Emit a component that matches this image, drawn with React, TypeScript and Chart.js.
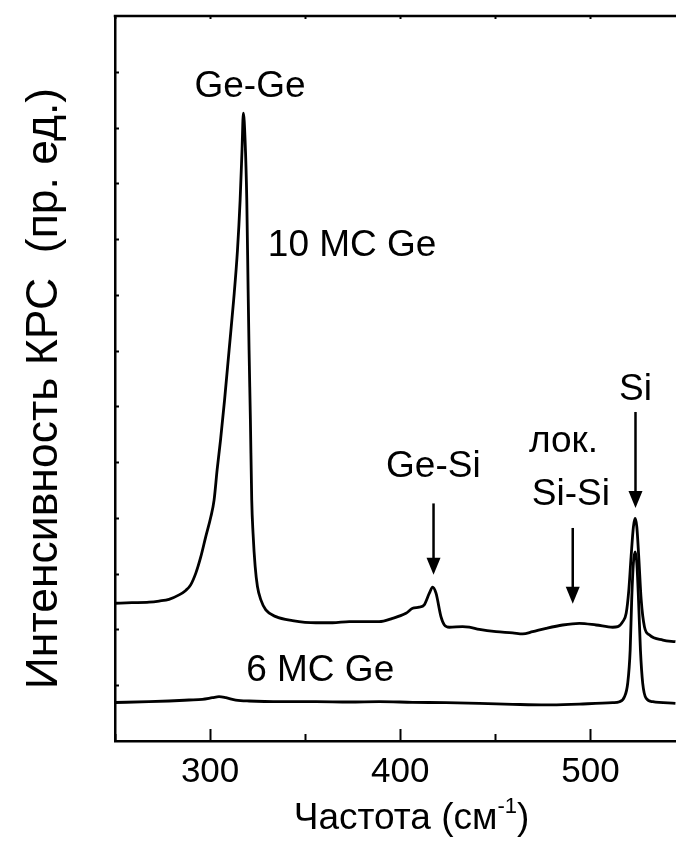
import { useEffect, useRef } from "react";
import { Chart, registerables } from "chart.js";

Chart.register(...registerables);

// Raman spectrum of the 10-monolayer Ge sample (frequency, cm^-1 / intensity, arb. units)
const freq10 = [
  250, 258.9, 267.9, 273.2, 278.4, 283.7, 287.2, 289.8, 292.5, 295.1, 297.7, 300.4,
  302.1, 303.7, 305.5, 307.6, 310.0, 312.4, 314.4, 315.8, 316.8, 317.5, 318.4,
  319.3, 320.0, 320.5, 321.2, 321.9, 322.6, 323.7, 324.9, 326.7, 329.3, 334.6, 343.3,
  355.6, 364.4, 373.2, 388.9, 395.9, 403.0, 406.5, 410.0, 412.6, 415.3, 417.0, 418.8,
  421.4, 423.2, 425.8, 432.8, 436.3, 441.6, 450.4, 459.1, 464.4, 469.6, 476.7, 485.4,
  494.2, 503.0, 511.7, 514.4, 517.0, 518.8, 520.2, 521.4, 522.6, 523.5, 524.4, 525.4,
  526.7, 528.4, 531.1, 538.1, 544.7,
];
const int10 = [
  2.47, 2.48, 2.49, 2.51, 2.54, 2.62, 2.7, 2.8, 3.01, 3.3, 3.66, 4.02,
  4.32, 4.86, 5.4, 6.11, 7.01, 7.91, 8.8, 9.7, 10.6, 11.26, 10.78,
  9.7, 8.09, 7.01, 5.76, 4.32, 3.72, 3.13, 2.77, 2.53, 2.35, 2.23, 2.16,
  2.12, 2.12, 2.14, 2.14, 2.2, 2.29, 2.38, 2.4, 2.44, 2.65, 2.76, 2.65,
  2.23, 2.08, 2.04, 2.05, 2.04, 2.0, 1.96, 1.94, 1.92, 1.96, 2.02, 2.08,
  2.11, 2.08, 2.04, 2.05, 2.14, 2.29, 2.71, 3.31, 3.84, 3.99, 3.84, 3.31,
  2.53, 2.05, 1.9, 1.81, 1.78,
];

// Raman spectrum of the 6-monolayer Ge sample
const freq6 = [
  250, 267.9, 278.4, 288.9, 295.9, 301.2, 304.7, 308.3, 313.5, 320.5, 338.1, 355.6,
  373.2, 388.9, 406.5, 424.1, 441.6, 459.1, 476.7, 494.2, 511.7, 515.3, 517.9, 519.6,
  520.9, 521.7, 522.6, 523.5, 524.4, 525.3, 526.3, 527.5, 529.3, 532.8, 544.7,
];
const int6 = [
  0.69, 0.705, 0.717, 0.735, 0.748, 0.776, 0.794, 0.776, 0.735, 0.717, 0.705, 0.705,
  0.699, 0.705, 0.694, 0.687, 0.676, 0.658, 0.646, 0.663, 0.687, 0.705, 0.794, 1.035,
  1.63, 2.53, 3.19, 3.39, 3.19, 2.53, 1.63, 1.035, 0.766, 0.705, 0.676,
];

// Axis ranges and tick steps
const xMin = 250;
const xMax = 545;
const xStep = 50;
const xLabelStep = 100;
const yMin = 0;
const yMax = 13;
const yStep = 1;

// Peak annotations: text, frequency of its centre, intensity of its baseline
const noteText = ["Ge-Ge", "10 МС Ge", "6 МС Ge", "Ge-Si", "лок.", "Si-Si", "Si"];
const noteFreq = [321.0, 374.7, 357.9, 417.4, 485.8, 489.7, 523.7];
const noteLevel = [11.55, 8.7, 1.08, 4.73, 5.18, 4.23, 6.11];

// Arrows pointing to the bands: frequency, start and tip intensity
const arrowFreq = [417.5, 490.7, 523.7];
const arrowFrom = [4.26, 3.82, 5.9];
const arrowTo = [2.98, 2.46, 4.18];

const xTitle = "Частота (см";
const xTitleSup = "-1";
const yTitle = "Интенсивность КРС  (пр. ед.)";

const FONT = '"Liberation Sans", Arial, Helvetica, sans-serif';

const toPoints = (xs: number[], ys: number[]) => xs.map((x, i) => ({ x, y: ys[i] }));

const framePlugin = {
  id: "frameAndNotes",
  afterDatasetsDraw(chart: any) {
    const { ctx, chartArea: a, scales } = chart;
    const xs = scales.x;
    const ys = scales.y;
    ctx.save();
    ctx.strokeStyle = "#000";
    ctx.fillStyle = "#000";
    ctx.lineCap = "butt";

    // top edge of the frame
    ctx.lineWidth = 2.5;
    ctx.beginPath();
    ctx.moveTo(a.left - 1.25, a.top);
    ctx.lineTo(a.right, a.top);
    ctx.stroke();

    // inward tick marks
    ctx.lineWidth = 2;
    xs.ticks.forEach((t: any) => {
      const px = Math.round(xs.getPixelForValue(t.value)) + 0.5;
      const major = t.value % xLabelStep === 0;
      ctx.beginPath();
      ctx.moveTo(px, a.bottom);
      ctx.lineTo(px, a.bottom - (major ? 12 : 7));
      ctx.stroke();
      ctx.beginPath();
      ctx.moveTo(px, a.top);
      ctx.lineTo(px, a.top + 3);
      ctx.stroke();
    });
    ys.ticks.forEach((t: any) => {
      if (t.value <= yMin || t.value >= yMax) return;
      const py = Math.round(ys.getPixelForValue(t.value)) + 0.5;
      ctx.beginPath();
      ctx.moveTo(a.left, py);
      ctx.lineTo(a.left + 4, py);
      ctx.stroke();
    });

    // band labels
    ctx.font = `37px ${FONT}`;
    ctx.textAlign = "center";
    ctx.textBaseline = "alphabetic";
    noteText.forEach((txt, i) => {
      ctx.fillText(txt, xs.getPixelForValue(noteFreq[i]), ys.getPixelForValue(noteLevel[i]));
    });

    // arrows
    arrowFreq.forEach((f, i) => {
      const px = xs.getPixelForValue(f);
      const y0 = ys.getPixelForValue(arrowFrom[i]);
      const y1 = ys.getPixelForValue(arrowTo[i]);
      const head = 17;
      ctx.lineWidth = 2.5;
      ctx.beginPath();
      ctx.moveTo(px, y0);
      ctx.lineTo(px, y1 - head + 2);
      ctx.stroke();
      ctx.beginPath();
      ctx.moveTo(px - 7, y1 - head);
      ctx.lineTo(px + 7, y1 - head);
      ctx.lineTo(px, y1);
      ctx.closePath();
      ctx.fill();
    });
    ctx.restore();
  },
  afterDraw(chart: any) {
    const { ctx, chartArea: a } = chart;
    ctx.save();
    ctx.fillStyle = "#000";
    ctx.textBaseline = "alphabetic";

    // x axis title with superscript
    const main = `37px ${FONT}`;
    const sup = `22px ${FONT}`;
    ctx.font = main;
    const w1 = ctx.measureText(xTitle).width;
    const w3 = ctx.measureText(")").width;
    ctx.font = sup;
    const w2 = ctx.measureText(xTitleSup).width;
    const total = w1 + w2 + w3;
    const cx = (a.left + a.right) / 2 + 16;
    let x = cx - total / 2;
    const base = 829;
    ctx.textAlign = "left";
    ctx.font = main;
    ctx.fillText(xTitle, x, base);
    x += w1;
    ctx.font = sup;
    ctx.fillText(xTitleSup, x, base - 16);
    x += w2;
    ctx.font = main;
    ctx.fillText(")", x, base);

    // y axis title
    ctx.translate(57, (a.top + a.bottom) / 2 + 10);
    ctx.rotate(-Math.PI / 2);
    ctx.font = `44.5px ${FONT}`;
    ctx.textAlign = "center";
    ctx.fillText(yTitle, 0, 0);
    ctx.restore();
  },
};

export default function App() {
  const ref = useRef<HTMLCanvasElement | null>(null);

  useEffect(() => {
    document.body.style.margin = "0";
    const canvas = ref.current;
    if (!canvas) return;
    const chart = new Chart(canvas, {
      type: "line",
      data: {
        datasets: [
          {
            label: "10 МС Ge",
            data: toPoints(freq10, int10),
            borderColor: "#000",
            borderWidth: 2.8,
            pointRadius: 0,
            cubicInterpolationMode: "monotone",
            fill: false,
          },
          {
            label: "6 МС Ge",
            data: toPoints(freq6, int6),
            borderColor: "#000",
            borderWidth: 2.8,
            pointRadius: 0,
            cubicInterpolationMode: "monotone",
            fill: false,
          },
        ],
      },
      options: {
        responsive: false,
        animation: false,
        events: [],
        layout: { padding: { top: 16, left: 0, right: 0, bottom: 0 } },
        plugins: {
          legend: { display: false },
          tooltip: { enabled: false },
          title: { display: false },
        },
        scales: {
          x: {
            type: "linear",
            min: xMin,
            max: xMax,
            afterFit: (s: any) => {
              s.height = 101;
            },
            grid: { display: false, drawTicks: false },
            border: { display: true, color: "#000", width: 2.5 },
            ticks: {
              stepSize: xStep,
              includeBounds: false,
              autoSkip: false,
              maxRotation: 0,
              padding: 10,
              color: "#000",
              font: { family: FONT, size: 35 },
              callback: (v: any) => (Number(v) % xLabelStep === 0 ? String(v) : ""),
            },
          },
          y: {
            type: "linear",
            min: yMin,
            max: yMax,
            afterFit: (s: any) => {
              s.width = 115;
            },
            grid: { display: false, drawTicks: false },
            border: { display: true, color: "#000", width: 2.5 },
            ticks: { stepSize: yStep, display: false },
          },
        },
      },
      plugins: [framePlugin],
    } as any);
    return () => chart.destroy();
  }, []);

  return (
    <div style={{ position: "fixed", left: 0, top: 0, width: 676, height: 842, background: "#fff" }}>
      <canvas ref={ref} width={676} height={842} style={{ display: "block" }} />
    </div>
  );
}
